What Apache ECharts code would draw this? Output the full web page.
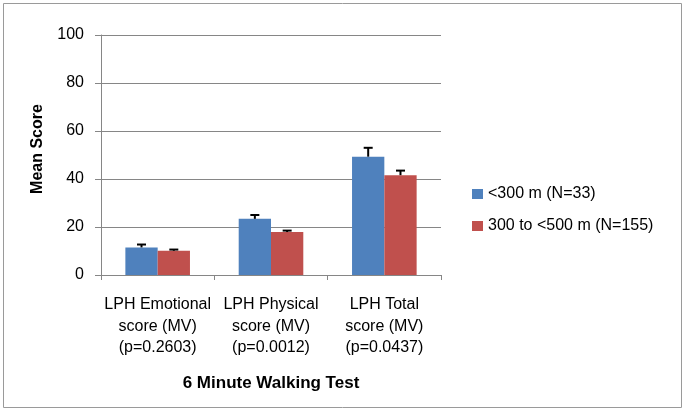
<!DOCTYPE html>
<html>
<head>
<meta charset="utf-8">
<script src="https://cdn.jsdelivr.net/npm/echarts@6/dist/echarts.min.js"></script>
<style>html,body{margin:0;padding:0;background:#fff}#c{width:685px;height:412px}</style>
</head>
<body>
<div id="c"></div>
<script>
const categories = ['LPH Emotional\nscore (MV)\n(p=0.2603)', 'LPH Physical\nscore (MV)\n(p=0.0012)', 'LPH Total\nscore (MV)\n(p=0.0437)'];
const seriesNames = ['<300 m (N=33)', '300 to <500 m (N=155)'];
const meansLow = [11.5, 23.4, 49.3];
const meansHigh = [10.1, 17.9, 41.6];
const errTopLow = [12.7, 25.0, 53.0];
const errTopHigh = [10.6, 18.5, 43.5];
const yTicks = [0, 20, 40, 60, 80, 100];

const FONT = '"Liberation Sans", Arial, sans-serif';
const GAP = 0.43;

function errSeries(tops, means, sign) {
  return {
    type: 'custom',
    silent: true,
    z: 5,
    data: tops.map((t, i) => [i, means[i], t]),
    renderItem: function (params, api) {
      const i = api.value(0);
      const band = api.size([1, 0])[0];
      const off = sign * band * (1 - GAP) / 4;
      const b = api.coord([i, api.value(1)]);
      const t = api.coord([i, api.value(2)]);
      const x = b[0] + off;
      const st = { stroke: '#000', lineWidth: 2 };
      return {
        type: 'group',
        children: [
          { type: 'line', shape: { x1: x, y1: b[1], x2: x, y2: t[1] }, style: st },
          { type: 'line', shape: { x1: x - 4.5, y1: t[1], x2: x + 4.5, y2: t[1] }, style: st }
        ]
      };
    }
  };
}

const chart = echarts.init(document.getElementById('c'), null, { renderer: 'canvas' });
chart.setOption({
  animation: false,
  backgroundColor: '#fff',
  textStyle: { fontFamily: FONT },
  graphic: [{
    type: 'rect', shape: { x: 3.5, y: 3.5, width: 678, height: 404 },
    style: { fill: 'none', stroke: '#9a9a9a', lineWidth: 1 }, silent: true
  }, {
    type: 'text', x: 38, y: 149, rotation: Math.PI / 2, silent: true,
    style: { text: 'Mean Score', fontSize: 16, fontWeight: 'bold', fill: '#000', fontFamily: FONT, align: 'center', verticalAlign: 'middle' }
  }],
  grid: { left: 101, right: 244, top: 35, bottom: 137 },
  legend: {
    orient: 'vertical', left: 467, top: 181,
    itemWidth: 11, itemHeight: 10, itemGap: 16,
    icon: 'rect',
    data: seriesNames,
    textStyle: { fontSize: 16, color: '#000', fontFamily: FONT }
  },
  xAxis: {
    type: 'category',
    data: categories,
    name: '6 Minute Walking Test',
    nameLocation: 'middle',
    nameGap: 100,
    nameTextStyle: { fontSize: 17, fontWeight: 'bold', color: '#000', fontFamily: FONT },
    axisLine: { lineStyle: { color: '#868686', width: 1 } },
    axisTick: { show: true, length: 5, lineStyle: { color: '#868686' } },
    axisLabel: { margin: 19, fontSize: 16, lineHeight: 21.5, color: '#000', fontFamily: FONT, interval: 0 }
  },
  yAxis: {
    type: 'value',
    min: 0, max: 100, interval: 20,
    axisLine: { show: true, lineStyle: { color: '#868686', width: 1 } },
    axisTick: { show: true, length: 6, lineStyle: { color: '#868686' } },
    splitLine: { lineStyle: { color: '#868686', width: 1 } },
    axisLabel: {
      margin: 17, fontSize: 16, color: '#000', fontFamily: FONT,
      formatter: v => yTicks.includes(v) ? String(v) : ''
    }
  },
  series: [
    { name: seriesNames[0], type: 'bar', data: meansLow, barGap: '0%', barCategoryGap: (GAP * 100) + '%', itemStyle: { color: '#4F81BD' } },
    { name: seriesNames[1], type: 'bar', data: meansHigh, barGap: '0%', barCategoryGap: (GAP * 100) + '%', itemStyle: { color: '#C0504D' } },
    errSeries(errTopLow, meansLow, -1),
    errSeries(errTopHigh, meansHigh, 1)
  ]
});
</script>
</body>
</html>
